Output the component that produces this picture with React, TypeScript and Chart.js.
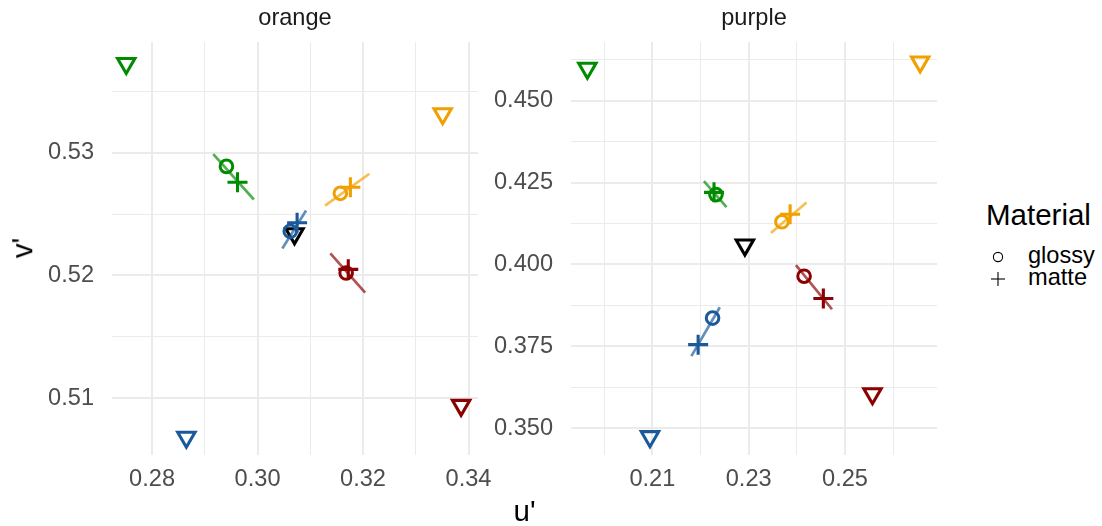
import React, { useEffect, useRef } from "react";
import { Chart, registerables } from "chart.js";

Chart.register(...registerables);

// ---------- data ----------
const hueNames = ["green", "orange", "blue", "red", "black"];
const hueColors = ["#008B00", "#F0A000", "#1A5A9A", "#8B0000", "#000000"];
const segmentColors = [
  "rgba(0,139,0,0.68)",
  "rgba(240,160,0,0.68)",
  "rgba(26,90,154,0.68)",
  "rgba(139,0,0,0.68)",
];
const materials = ["glossy", "matte"];

// panel "orange"
const orangeTargetU = [0.2751, 0.3351, 0.2865, 0.3386, 0.3070];
const orangeTargetV = [0.5373, 0.5332, 0.5068, 0.5094, 0.5234];
const orangeGlossyU = [0.2941, 0.3157, 0.3062, 0.3168];
const orangeGlossyV = [0.5289, 0.5267, 0.5236, 0.5202];
const orangeMatteU = [0.2962, 0.3176, 0.3075, 0.3172];
const orangeMatteV = [0.5276, 0.5272, 0.5243, 0.5205];
const orangeSegU0 = [0.2916, 0.3128, 0.3047, 0.3138];
const orangeSegV0 = [0.5299, 0.5257, 0.5222, 0.5218];
const orangeSegU1 = [0.2993, 0.3212, 0.3092, 0.3204];
const orangeSegV1 = [0.5262, 0.5283, 0.5253, 0.5186];

// panel "purple"
const purpleTargetU = [0.1965, 0.2656, 0.2095, 0.2557, 0.2292];
const purpleTargetV = [0.4599, 0.4618, 0.3474, 0.3605, 0.4059];
const purpleGlossyU = [0.2232, 0.2369, 0.2225, 0.2415];
const purpleGlossyV = [0.4213, 0.4130, 0.3836, 0.3964];
const purpleMatteU = [0.2228, 0.2386, 0.2195, 0.2455];
const purpleMatteV = [0.4220, 0.4153, 0.3755, 0.3896];
const purpleSegU0 = [0.2207, 0.2346, 0.2181, 0.2398];
const purpleSegV0 = [0.4254, 0.4096, 0.3720, 0.3998];
const purpleSegU1 = [0.2254, 0.2420, 0.2240, 0.2473];
const purpleSegV1 = [0.4175, 0.4189, 0.3869, 0.3863];

// ticks
const orangeXTicks = [0.28, 0.29, 0.30, 0.31, 0.32, 0.33, 0.34];
const orangeXMajor = [0.28, 0.30, 0.32, 0.34];
const orangeXLabels = ["0.28", "0.30", "0.32", "0.34"];
const orangeYTicks = [0.51, 0.515, 0.52, 0.525, 0.53, 0.535];
const orangeYMajor = [0.51, 0.52, 0.53];
const orangeYLabels = ["0.51", "0.52", "0.53"];

const purpleXTicks = [0.20, 0.21, 0.22, 0.23, 0.24, 0.25, 0.26];
const purpleXMajor = [0.21, 0.23, 0.25];
const purpleXLabels = ["0.21", "0.23", "0.25"];
const purpleYTicks = [0.35, 0.3625, 0.375, 0.3875, 0.4, 0.4125, 0.425, 0.4375, 0.45, 0.4625];
const purpleYMajor = [0.35, 0.375, 0.4, 0.425, 0.45];
const purpleYLabels = ["0.350", "0.375", "0.400", "0.425", "0.450"];

// ---------- styling ----------
const FONT = '"Liberation Sans", Arial, Helvetica, sans-serif';
const SMALL = 23.6;
const BIG = 29.5;
const GRID = "#EBEBEB";
const TICK_TEXT = "#4D4D4D";

type PanelDef = {
  title: string;
  targetU: number[]; targetV: number[];
  glossyU: number[]; glossyV: number[];
  matteU: number[]; matteV: number[];
  segU0: number[]; segV0: number[]; segU1: number[]; segV1: number[];
  xMin: number; xMax: number; yMin: number; yMax: number;
  xTicks: number[]; xMajor: number[]; xLabels: string[];
  yTicks: number[]; yMajor: number[]; yLabels: string[];
};

const panels: PanelDef[] = [
  {
    title: "orange",
    targetU: orangeTargetU, targetV: orangeTargetV,
    glossyU: orangeGlossyU, glossyV: orangeGlossyV,
    matteU: orangeMatteU, matteV: orangeMatteV,
    segU0: orangeSegU0, segV0: orangeSegV0, segU1: orangeSegU1, segV1: orangeSegV1,
    xMin: 0.2724, xMax: 0.3418, yMin: 0.50535, yMax: 0.53905,
    xTicks: orangeXTicks, xMajor: orangeXMajor, xLabels: orangeXLabels,
    yTicks: orangeYTicks, yMajor: orangeYMajor, yLabels: orangeYLabels,
  },
  {
    title: "purple",
    targetU: purpleTargetU, targetV: purpleTargetV,
    glossyU: purpleGlossyU, glossyV: purpleGlossyV,
    matteU: purpleMatteU, matteV: purpleMatteV,
    segU0: purpleSegU0, segV0: purpleSegV0, segU1: purpleSegU1, segV1: purpleSegV1,
    xMin: 0.1931, xMax: 0.2691, yMin: 0.3418, yMax: 0.4679,
    xTicks: purpleXTicks, xMajor: purpleXMajor, xLabels: purpleXLabels,
    yTicks: purpleYTicks, yMajor: purpleYMajor, yLabels: purpleYLabels,
  },
];

function majorIndex(v: number, majors: number[]) {
  return majors.findIndex((m) => Math.abs(m - v) < 1e-9);
}

function zip(u: number[], v: number[]) {
  return u.map((x, i) => ({ x, y: v[i] }));
}

function buildDatasets(p: PanelDef) {
  const ds: any[] = [];
  ds.push({
    label: "target",
    data: zip(p.targetU, p.targetV),
    pointStyle: "triangle",
    pointRotation: 180,
    pointRadius: 10,
    pointBorderWidth: 3.1,
    pointBorderColor: hueColors.slice(0, p.targetU.length),
    pointBackgroundColor: "rgba(0,0,0,0)",
    order: 4,
  });
  for (let i = 0; i < p.segU0.length; i++) {
    ds.push({
      label: "segment " + hueNames[i],
      data: [
        { x: p.segU0[i], y: p.segV0[i] },
        { x: p.segU1[i], y: p.segV1[i] },
      ],
      showLine: true,
      borderColor: segmentColors[i],
      borderWidth: 2.7,
      pointRadius: 0,
      order: 3,
    });
  }
  ds.push({
    label: materials[0],
    data: zip(p.glossyU, p.glossyV),
    pointStyle: "circle",
    pointRadius: 6.3,
    pointBorderWidth: 3,
    pointBorderColor: hueColors.slice(0, p.glossyU.length),
    pointBackgroundColor: "rgba(0,0,0,0)",
    order: 2,
  });
  ds.push({
    label: materials[1],
    data: zip(p.matteU, p.matteV),
    pointStyle: "cross",
    pointRadius: 10,
    pointBorderWidth: 3.1,
    pointBorderColor: hueColors.slice(0, p.matteU.length),
    pointBackgroundColor: "rgba(0,0,0,0)",
    order: 1,
  });
  return ds;
}

function PanelChart({ panel, left, width, yAxisWidth, padRight }: { panel: PanelDef; left: number; width: number; yAxisWidth: number; padRight: number }) {
  const ref = useRef<HTMLCanvasElement | null>(null);
  useEffect(() => {
    if (!ref.current) return;
    const p = panel;
    const chart = new Chart(ref.current, {
      type: "scatter",
      data: { datasets: buildDatasets(p) },
      options: {
        responsive: false,
        animation: false,
        devicePixelRatio: 1,
        layout: { padding: { top: 42, right: padRight, bottom: 0, left: 0 } },
        plugins: {
          legend: { display: false },
          tooltip: { enabled: false },
          title: { display: false },
        },
        scales: {
          x: {
            type: "linear",
            position: "bottom",
            min: p.xMin,
            max: p.xMax,
            afterBuildTicks: (s: any) => {
              s.ticks = p.xTicks.map((v) => ({ value: v }));
            },
            afterFit: (s: any) => {
              s.height = 71;
            },
            border: { display: false },
            grid: {
              drawTicks: false,
              color: GRID,
              lineWidth: (ctx: any) => (majorIndex(ctx.tick ? ctx.tick.value : NaN, p.xMajor) >= 0 ? 2 : 1),
            },
            ticks: {
              autoSkip: false,
              maxRotation: 0,
              minRotation: 0,
              padding: 10,
              color: TICK_TEXT,
              font: { family: FONT, size: SMALL },
              callback: (v: any) => {
                const i = majorIndex(Number(v), p.xMajor);
                return i >= 0 ? p.xLabels[i] : "";
              },
            },
          },
          y: {
            type: "linear",
            position: "left",
            min: p.yMin,
            max: p.yMax,
            afterBuildTicks: (s: any) => {
              s.ticks = p.yTicks.map((v) => ({ value: v }));
            },
            afterFit: (s: any) => {
              s.width = yAxisWidth;
            },
            border: { display: false },
            grid: {
              drawTicks: false,
              color: GRID,
              lineWidth: (ctx: any) => (majorIndex(ctx.tick ? ctx.tick.value : NaN, p.yMajor) >= 0 ? 2 : 1),
            },
            ticks: {
              autoSkip: false,
              padding: 18,
              color: TICK_TEXT,
              font: { family: FONT, size: SMALL },
              callback: (v: any) => {
                const i = majorIndex(Number(v), p.yMajor);
                return i >= 0 ? p.yLabels[i] : "";
              },
            },
          },
        },
      } as any,
    });
    return () => chart.destroy();
  }, [panel, yAxisWidth, padRight]);
  return (
    <canvas
      ref={ref}
      width={width}
      height={526}
      style={{ position: "absolute", left, top: 0, width, height: 526 }}
    />
  );
}

function Text({ text, x, baseline, size, color = "#000", align = "left" }: { text: string; x: number; baseline: number; size: number; color?: string; align?: "left" | "center" }) {
  return (
    <div
      style={{
        position: "absolute",
        left: x,
        top: baseline - 0.8465 * size,
        fontSize: size,
        lineHeight: `${size}px`,
        color,
        whiteSpace: "nowrap",
        transform: align === "center" ? "translateX(-50%)" : undefined,
      }}
    >
      {text}
    </div>
  );
}

export default function App() {
  return (
    <div
      style={{
        position: "absolute",
        left: 0,
        top: 0,
        width: 1102,
        height: 526,
        background: "#FFFFFF",
        overflow: "hidden",
        fontFamily: FONT,
      }}
    >
      <PanelChart panel={panels[0]} left={0} width={520} yAxisWidth={112} padRight={42} />
      <PanelChart panel={panels[1]} left={480} width={480} yAxisWidth={91} padRight={23} />

      <Text text={panels[0].title} x={295} baseline={26} size={SMALL} color="#1A1A1A" align="center" />
      <Text text={panels[1].title} x={754} baseline={26} size={SMALL} color="#1A1A1A" align="center" />

      <Text text="u'" x={524.5} baseline={521} size={BIG} align="center" />
      <div
        style={{
          position: "absolute",
          left: 21.8,
          top: 248,
          fontSize: BIG,
          lineHeight: `${BIG}px`,
          whiteSpace: "nowrap",
          transform: "translate(-50%, -50%) rotate(-90deg)",
        }}
      >
        v'
      </div>

      <Text text="Material" x={986} baseline={225} size={BIG} />
      <svg style={{ position: "absolute", left: 986, top: 244, overflow: "visible" }} width={24} height={50}>
        <circle cx={12} cy={13} r={4.6} fill="none" stroke="#000" strokeWidth={1.1} />
        <line x1={5} y1={35} x2={19} y2={35} stroke="#000" strokeWidth={1.1} />
        <line x1={12} y1={28} x2={12} y2={42} stroke="#000" strokeWidth={1.1} />
      </svg>
      <Text text={materials[0]} x={1028} baseline={264} size={SMALL} />
      <Text text={materials[1]} x={1028} baseline={286} size={SMALL} />
    </div>
  );
}
